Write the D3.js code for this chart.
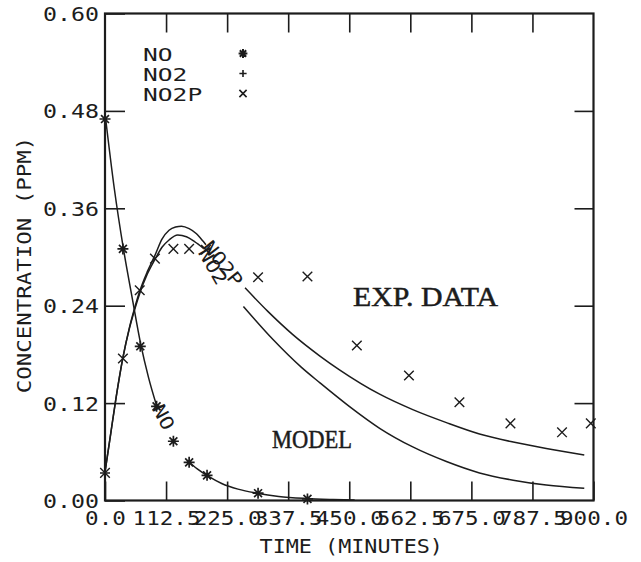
<!DOCTYPE html>
<html>
<head>
<meta charset="utf-8">
<script src="https://cdn.jsdelivr.net/npm/d3@7"></script>
<style>
  html, body { margin: 0; padding: 0; background: #fff; }
  svg { display: block; }
  .plotter { font-family: "DejaVu Sans Mono", monospace; fill: #1c1c1c; }
  .serif { font-family: "Liberation Serif", "DejaVu Serif", serif; fill: #1c1c1c; stroke: #1c1c1c; stroke-width: 0.5px; }
</style>
</head>
<body>
<svg id="chart" width="641" height="562"></svg>
<script>
// ---------------- data ----------------
const xTicks = [0, 112.5, 225, 337.5, 450, 562.5, 675, 787.5, 900];
const xTickLabels = ["0.0", "112.5", "225.0", "337.5", "450.0", "562.5", "675.0", "787.5", "900.0"];
const yTicks = [0, 0.12, 0.24, 0.36, 0.48, 0.60];
const yTickLabels = ["0.00", "0.12", "0.24", "0.36", "0.48", "0.60"];
const legendNames = ["NO", "NO2", "NO2P"];

// measured concentrations (ppm) against time (minutes)
const noTime = [0, 33, 65, 95, 126, 155, 188, 282, 373];
const noConc = [0.470, 0.310, 0.190, 0.116, 0.073, 0.047, 0.031, 0.009, 0.002];
const no2Time = [0];
const no2Conc = [0.034];
const no2pTime = [0, 33, 64, 92, 126, 155, 186, 282, 373, 464, 560, 653, 747, 842, 895];
const no2pConc = [0.034, 0.175, 0.259, 0.298, 0.310, 0.310, 0.309, 0.275, 0.276, 0.191, 0.154, 0.121, 0.095, 0.084, 0.095];

// model curves (null marks a break where the curve label is written)
const noModelTime = [0, 17, 34, 50, 66, 80, 95, 120, 152, 170, 190, 215, 245, 280, 320, 370, 420, 460];
const noModelConc = [0.477, 0.385, 0.310, 0.250, 0.192, 0.152, 0.117, null, 0.049, 0.039, 0.030, 0.021, 0.014, 0.009, 0.005, 0.0025, 0.0012, 0.0005];
const no2pModelTime = [0, 10, 20, 33, 45, 55, 64, 78, 92, 105, 118, 130, 141, 155, 168, 180, 186, 220, 258, 300, 345, 396, 432, 506, 567, 629, 690, 752, 813, 883];
const no2pModelConc = [0.035, 0.080, 0.125, 0.176, 0.213, 0.238, 0.258, 0.282, 0.302, 0.322, 0.333, 0.337, 0.338, 0.335, 0.329, 0.320, 0.315, null, 0.262, 0.233, 0.205, 0.178, 0.161, 0.131, 0.112, 0.096, 0.082, 0.072, 0.064, 0.056];
const no2ModelTime = [0, 10, 20, 33, 45, 55, 64, 78, 92, 105, 118, 134, 150, 165, 181, 220, 255, 310, 362, 396, 450, 506, 567, 629, 690, 752, 813, 883];
const no2ModelConc = [0.035, 0.080, 0.125, 0.176, 0.212, 0.236, 0.255, 0.279, 0.297, 0.312, 0.321, 0.327, 0.325, 0.319, 0.311, null, 0.239, 0.198, 0.164, 0.145, 0.116, 0.089, 0.066, 0.048, 0.034, 0.025, 0.019, 0.015];

// ---------------- layout ----------------
const ink = "#1c1c1c";
const svg = d3.select("#chart");
const X0 = 105, X1 = 593.5, Y0 = 13.5, Y1 = 500.5;
const x = d3.scaleLinear().domain([0, 900]).range([X0, X1]);
const y = d3.scaleLinear().domain([0, 0.6]).range([Y1, Y0]);

// plotter-style lettering: fixed advance per character
function letter(sel, size, adv) {
  sel.attr("class", "plotter")
     .style("font-size", size + "px")
     .attr("lengthAdjust", "spacingAndGlyphs")
     .attr("textLength", function () { return this.textContent.length * adv; });
}

// axes with inward ticks
const gx = svg.append("g").attr("transform", `translate(0,${Y1})`)
  .call(d3.axisBottom(x).tickValues(xTicks).tickFormat((d, i) => xTickLabels[i])
        .tickSizeInner(-19).tickSizeOuter(0));
gx.selectAll("text").attr("dy", null).attr("y", 24.5).call(letter, 19.5, 13.6);

const gy = svg.append("g").attr("transform", `translate(${X0},0)`)
  .call(d3.axisLeft(y).tickValues(yTicks).tickFormat((d, i) => yTickLabels[i])
        .tickSizeInner(-20).tickSizeOuter(0).tickPadding(6));
gy.selectAll("text").attr("dy", "0.36em").call(letter, 19.5, 14);

svg.append("g").attr("transform", `translate(0,${Y0})`)
  .call(d3.axisTop(x).tickValues(xTicks.slice(1, -1)).tickFormat("")
        .tickSizeInner(-19).tickSizeOuter(0));
svg.append("g").attr("transform", `translate(${X1},0)`)
  .call(d3.axisRight(y).tickValues(yTicks.slice(1, -1)).tickFormat("")
        .tickSizeInner(-19).tickSizeOuter(0));

svg.selectAll(".domain").remove();
svg.selectAll(".tick line").attr("stroke", ink).attr("stroke-width", 1.6);
svg.selectAll(".tick text").attr("fill", ink);

// frame
svg.append("rect").attr("x", X0).attr("y", Y0).attr("width", X1 - X0).attr("height", Y1 - Y0)
  .attr("fill", "none").attr("stroke", ink).attr("stroke-width", 2.2);

// axis titles
svg.append("text").attr("x", (X0 + X1) / 2 + 2).attr("y", 553).attr("text-anchor", "middle")
  .text("TIME (MINUTES)").call(letter, 20, 13.1);
svg.append("text").attr("transform", `translate(31,${(Y0 + Y1) / 2 + 8}) rotate(-90)`)
  .attr("text-anchor", "middle").text("CONCENTRATION (PPM)").call(letter, 20, 13.5);

// model curves
const line = d3.line().defined(d => d[1] !== null)
  .x(d => x(d[0])).y(d => y(d[1])).curve(d3.curveMonotoneX);
const zip = (t, c) => t.map((v, i) => [v, c[i]]);
const curves = [zip(noModelTime, noModelConc), zip(no2pModelTime, no2pModelConc), zip(no2ModelTime, no2ModelConc)];
svg.append("g").selectAll("path").data(curves).join("path")
  .attr("d", line).attr("fill", "none").attr("stroke", ink).attr("stroke-width", 1.5);

// curve labels at the break of each curve
function breakPoint(pts) {
  const i = pts.findIndex(p => p[1] === null);
  return pts[i - 1];
}
const curveLabels = [["NO", curves[0], 62, 1, 0], ["NO2P", curves[1], 52, 1, -2], ["NO2", curves[2], 60, 0, 1]];
curveLabels.forEach(([name, pts, ang, offX, offY]) => {
  const p = breakPoint(pts);
  svg.append("text")
    .attr("transform", `translate(${x(p[0]) + offX},${y(p[1]) + offY}) rotate(${ang})`)
    .attr("dy", "0.36em").text(name).call(letter, 18.5, 13);
});

// marker shapes
const asterisk = s => { const k = s * 0.72;
  return `M${-s},0L${s},0M0,${-s}L0,${s}M${-k},${-k}L${k},${k}M${-k},${k}L${k},${-k}`; };
const cross = s => `M${-s},${-s}L${s},${s}M${-s},${s}L${s},${-s}`;
const plus = s => `M${-s},0L${s},0M0,${-s}L0,${s}`;

function marks(t, c, shape, size, sw) {
  svg.append("g").selectAll("path").data(zip(t, c)).join("path")
    .attr("transform", d => `translate(${x(d[0])},${y(d[1])})`)
    .attr("d", shape(size)).attr("fill", "none").attr("stroke", ink).attr("stroke-width", sw);
}
marks(noTime, noConc, asterisk, 5.5, 1.7);
marks(no2Time, no2Conc, plus, 5, 1.5);
marks(no2pTime, no2pConc, cross, 4.8, 1.4);

// legend
const legendShapes = [asterisk, plus, cross];
const legendSizes = [4.4, 3.6, 3.6];
legendNames.forEach((name, i) => {
  const by = 60.5 + i * 20;
  svg.append("text").attr("x", 143).attr("y", by).text(name).call(letter, 18, 14.8);
  svg.append("path").attr("transform", `translate(243,${by - 7})`)
    .attr("d", legendShapes[i](legendSizes[i])).attr("fill", "none")
    .attr("stroke", ink).attr("stroke-width", i === 0 ? 2 : 1.6);
});

// annotations
svg.append("text").attr("class", "serif").attr("x", 353).attr("y", 306)
  .style("font-size", "27px").attr("textLength", 145).attr("lengthAdjust", "spacingAndGlyphs")
  .text("EXP. DATA");
svg.append("text").attr("class", "serif").attr("x", 272).attr("y", 448)
  .style("font-size", "26px").attr("textLength", 80).attr("lengthAdjust", "spacingAndGlyphs")
  .text("MODEL");
</script>
</body>
</html>
